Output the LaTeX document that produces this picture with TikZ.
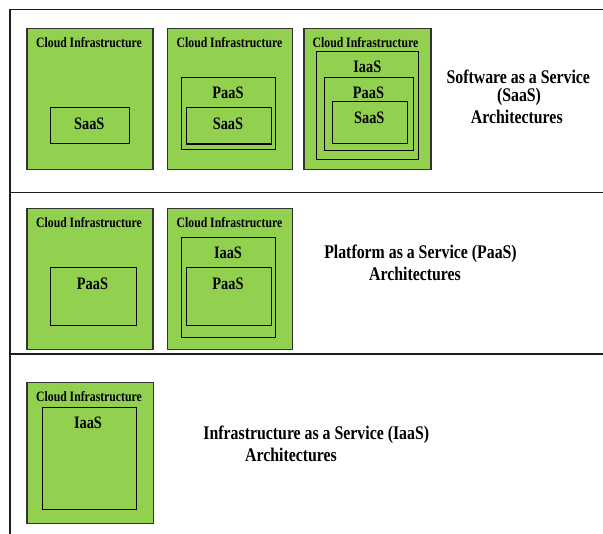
\documentclass[tikz,border=0pt]{standalone}
\usepackage{fontspec}
\newfontfamily\lblfont{Liberation Serif}[FakeStretch=0.82]
\definecolor{cloudgreen}{HTML}{92D050}
\definecolor{edgegray}{HTML}{333333}
\definecolor{framegray}{HTML}{1E1E1E}
\tikzset{
  cloudbox/.style={draw=edgegray, line width=1.4pt, fill=cloudgreen, anchor=north west, inner sep=0pt},
  layerbox/.style={draw=black, line width=1.1pt, anchor=north west, inner sep=0pt},
  cloudlbl/.style={inner sep=0pt, font=\lblfont\bfseries\fontsize{14.3}{16}\selectfont},
  layerlbl/.style={inner sep=0pt, font=\lblfont\bfseries\fontsize{17.5}{19}\selectfont},
  titlelbl/.style={inner sep=0pt, font=\lblfont\bfseries\fontsize{19.3}{21}\selectfont},
  frameline/.style={draw=framegray, line width=1.6pt}
}
\begin{document}
\begin{tikzpicture}[x=1pt,y=-1pt]
\useasboundingbox (0,0) rectangle (603,534);
% frame
\coordinate (ftr) at (603,9.7);
\coordinate (ftl) at (9.7,9.7);
\coordinate (fbl) at (9.7,534);
\coordinate (s1l) at (9.7,192.5);
\coordinate (s1r) at (603,192.5);
\coordinate (s2l) at (9.7,354.3);
\coordinate (s2r) at (603,354.3);
\draw[frameline] (ftr) -- (ftl) -- (fbl);
\draw[frameline] (s1l) -- (s1r);
\draw[frameline] (s2l) -- (s2r);

% ---------- Row 1 ----------
\node[cloudbox, minimum width=126, minimum height=141] (r1a) at (26.3,27.8) {};
\node[cloudlbl] (r1at) at (89,43) {Cloud Infrastructure};
\node[layerbox, minimum width=78.5, minimum height=36] (r1as) at (50,107.3) {};
\node[layerlbl] (r1ast) at (89.3,124) {SaaS};

\node[cloudbox, minimum width=125, minimum height=141] (r1b) at (167,27.8) {};
\node[cloudlbl] (r1bt) at (229.5,43) {Cloud Infrastructure};
\node[layerbox, minimum width=94, minimum height=72.3] (r1bp) at (181,77) {};
\node[layerlbl] (r1bpt) at (228,93) {PaaS};
\node[layerbox, minimum width=85, minimum height=36.3] (r1bs) at (185.7,107.2) {};
\node[layerlbl] (r1bst) at (228,124) {SaaS};

\node[cloudbox, minimum width=127, minimum height=141] (r1c) at (303.3,27.8) {};
\node[cloudlbl] (r1ct) at (365.5,43) {Cloud Infrastructure};
\node[layerbox, minimum width=101.4, minimum height=107.4] (r1ci) at (316.3,51.3) {};
\node[layerlbl] (r1cit) at (367.3,67) {IaaS};
\node[layerbox, minimum width=89, minimum height=73.3] (r1cp) at (324.3,76.7) {};
\node[layerlbl] (r1cpt) at (368.5,92.7) {PaaS};
\node[layerbox, minimum width=75.3, minimum height=42.3] (r1cs) at (332,101) {};
\node[layerlbl] (r1cst) at (369.3,118) {SaaS};

\node[titlelbl] (r1t1) at (518.3,76.5) {Software as a Service};
\node[titlelbl] (r1t2) at (519,97) {(SaaS)};
\node[titlelbl] (r1t3) at (516.8,117.3) {Architectures};

% ---------- Row 2 ----------
\node[cloudbox, minimum width=126, minimum height=141.3] (r2a) at (26.3,207.7) {};
\node[cloudlbl] (r2at) at (89,222.7) {Cloud Infrastructure};
\node[layerbox, minimum width=85.7, minimum height=58] (r2ap) at (50,267.3) {};
\node[layerlbl] (r2apt) at (92.5,284) {PaaS};

\node[cloudbox, minimum width=125, minimum height=141.3] (r2b) at (167,207.7) {};
\node[cloudlbl] (r2bt) at (229.5,222.7) {Cloud Infrastructure};
\node[layerbox, minimum width=94.3, minimum height=100] (r2bi) at (181,236.7) {};
\node[layerlbl] (r2bit) at (228,253) {IaaS};
\node[layerbox, minimum width=85, minimum height=58] (r2bp) at (185.7,267.3) {};
\node[layerlbl] (r2bpt) at (228,284) {PaaS};

\node[titlelbl] (r2t1) at (420.5,254) {Platform as a Service (PaaS)};
\node[titlelbl] (r2t2) at (415,274.3) {Architectures};

% ---------- Row 3 ----------
\node[cloudbox, minimum width=126.4, minimum height=141.3] (r3a) at (26.3,381.7) {};
\node[cloudlbl] (r3at) at (89,396.7) {Cloud Infrastructure};
\node[layerbox, minimum width=93.7, minimum height=101.4] (r3ai) at (42,407.3) {};
\node[layerlbl] (r3ait) at (88,422.7) {IaaS};

\node[titlelbl] (r3t1) at (316.3,434.5) {Infrastructure as a Service (IaaS)};
\node[titlelbl] (r3t2) at (291,454.5) {Architectures};
\end{tikzpicture}
\end{document}
